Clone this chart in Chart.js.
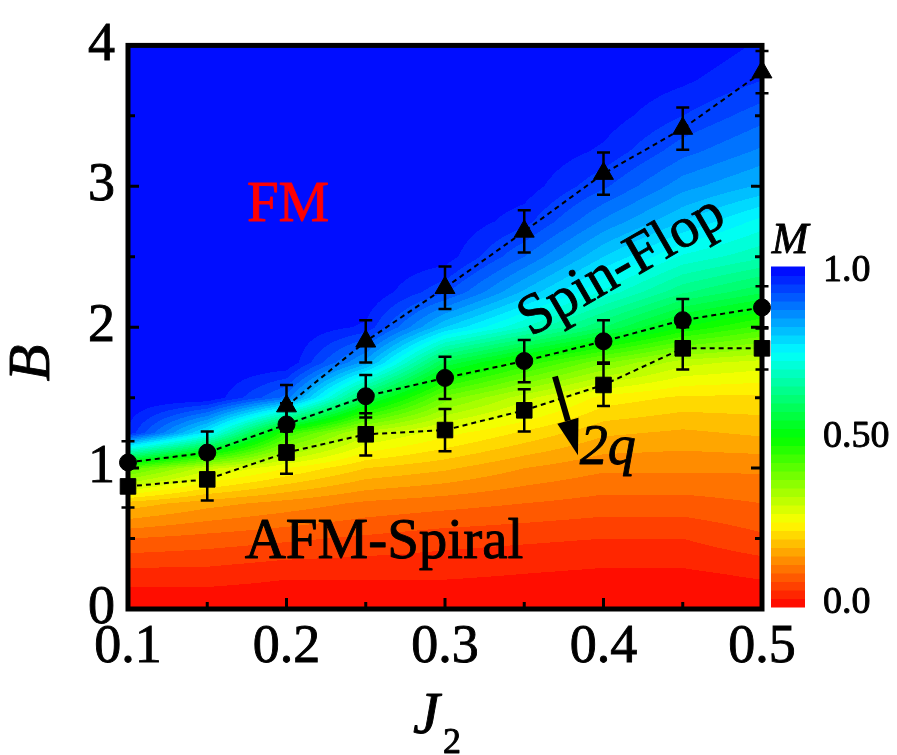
<!DOCTYPE html>
<html>
<head>
<meta charset="utf-8">
<script src="https://cdn.jsdelivr.net/npm/chart.js@4.4.1/dist/chart.umd.min.js"></script>
<style>
  html, body { margin: 0; padding: 0; background: #fff; }
  canvas { display: block; }
</style>
</head>
<body>
<canvas id="phaseChart" width="897" height="755"></canvas>
<script>
const phaseHTML = document.getElementById("phaseChart");

// Transition fields
const j2Values = [0.1, 0.15, 0.2, 0.25, 0.3, 0.35, 0.4, 0.45, 0.5];
const triangleJ2 = [0.2, 0.25, 0.3, 0.35, 0.4, 0.45, 0.5];
const triangleB = [1.44, 1.90, 2.28, 2.68, 3.09, 3.41, 3.81];
const triangleErr = [0.15, 0.15, 0.15, 0.15, 0.15, 0.15, 0.15];
const circleB = [1.04, 1.11, 1.31, 1.51, 1.64, 1.76, 1.90, 2.05, 2.14];
const circleErr = [0.15, 0.15, 0.15, 0.15, 0.15, 0.15, 0.15, 0.15, 0.15];
const squareB = [0.87, 0.92, 1.11, 1.24, 1.27, 1.41, 1.59, 1.85, 1.85];
const squareErr = [0.15, 0.15, 0.15, 0.15, 0.15, 0.15, 0.15, 0.15, 0.15];

// Magnetization M, one row per J2 value, columns along B
const mapB = [0, 0.25, 0.5, 0.75, 1, 1.25, 1.5, 1.75, 2, 2.25, 2.5, 2.75, 3, 3.25, 3.5, 3.75, 4];
const mapM = [
    [0, 0.04, 0.10, 0.19, 0.42, 0.97, 1, 1, 1, 1, 1, 1, 1, 1, 1, 1, 1],
    [0, 0.04, 0.09, 0.16, 0.31, 0.76, 1, 1, 1, 1, 1, 1, 1, 1, 1, 1, 1],
    [0, 0.03, 0.08, 0.14, 0.25, 0.45, 0.89, 1, 1, 1, 1, 1, 1, 1, 1, 1, 1],
    [0, 0.03, 0.07, 0.12, 0.20, 0.31, 0.58, 0.84, 0.97, 1, 1, 1, 1, 1, 1, 1, 1],
    [0, 0.03, 0.06, 0.11, 0.18, 0.26, 0.39, 0.57, 0.80, 0.93, 0.99, 1, 1, 1, 1, 1, 1],
    [0, 0.025, 0.055, 0.10, 0.15, 0.22, 0.31, 0.47, 0.70, 0.82, 0.90, 0.96, 0.99, 1, 1, 1, 1],
    [0, 0.02, 0.05, 0.09, 0.13, 0.18, 0.24, 0.38, 0.60, 0.72, 0.80, 0.87, 0.93, 0.97, 0.99, 1, 1],
    [0, 0.02, 0.05, 0.09, 0.13, 0.17, 0.22, 0.31, 0.50, 0.63, 0.72, 0.80, 0.86, 0.91, 0.95, 0.98, 1],
    [0, 0.03, 0.07, 0.10, 0.13, 0.18, 0.22, 0.29, 0.44, 0.58, 0.68, 0.74, 0.82, 0.87, 0.91, 0.95, 0.97]
];

const xTickValues = [0.1, 0.2, 0.3, 0.4, 0.5];
const yTickValues = [0, 1, 2, 3, 4];
const colorBarValues = [1.0, 0.5, 0.0];
const colorBarLabels = ["1.0", "0.50", "0.0"];

const serif = '"Liberation Serif", "Times New Roman", serif';

// Colour map for M: red -> yellow -> green -> cyan -> blue, in bands
const colorStops = [
    [0.0, 255, 0, 0],
    [0.25, 255, 255, 0],
    [0.5, 0, 255, 0],
    [0.75, 0, 255, 255],
    [1.0, 0, 0, 255]
];
const levels = 40;

function colorForM(m) {
    let k = Math.floor(m * levels);
    if (k < 0) k = 0;
    if (k > levels - 1) k = levels - 1;
    const v = (k + 0.5) / levels;
    for (let i = 1; i < colorStops.length; i++) {
        if (v <= colorStops[i][0]) {
            const a = colorStops[i - 1];
            const b = colorStops[i];
            const t = (v - a[0]) / (b[0] - a[0]);
            return [a[1] + (b[1] - a[1]) * t, a[2] + (b[2] - a[2]) * t, a[3] + (b[3] - a[3]) * t];
        }
    }
    return [0, 0, 255];
}

function findCell(arr, v) {
    if (v <= arr[0]) return [0, 0];
    for (let i = 0; i < arr.length - 1; i++) {
        if (v <= arr[i + 1]) return [i, (v - arr[i]) / (arr[i + 1] - arr[i])];
    }
    return [arr.length - 2, 1];
}

// Smooth value of M between the read grid points (contour fill)
function lookupM(j2, b) {
    const [i, tx] = findCell(j2Values, j2);
    const [k, ty] = findCell(mapB, b);
    const m00 = mapM[i][k], m01 = mapM[i][k + 1];
    const m10 = mapM[i + 1][k], m11 = mapM[i + 1][k + 1];
    return (m00 * (1 - ty) + m01 * ty) * (1 - tx) + (m10 * (1 - ty) + m11 * ty) * tx;
}

// Drawing the M map, the frame, the inward ticks and the error bars
const magnetizationMap = {
    id: 'magnetizationMap',
    beforeDatasetsDraw(chart) {
        const { ctx, chartArea, scales } = chart;
        const left = Math.round(chartArea.left);
        const top = Math.round(chartArea.top);
        const w = Math.round(chartArea.right) - left;
        const h = Math.round(chartArea.bottom) - top;
        const off = document.createElement('canvas');
        off.width = w;
        off.height = h;
        const octx = off.getContext('2d');
        const img = octx.createImageData(w, h);
        const xs = [];
        for (let px = 0; px < w; px++) xs.push(scales.x.getValueForPixel(left + px + 0.5));
        for (let py = 0; py < h; py++) {
            const b = scales.y.getValueForPixel(top + py + 0.5);
            for (let px = 0; px < w; px++) {
                const c = colorForM(lookupM(xs[px], b));
                const idx = (py * w + px) * 4;
                img.data[idx] = c[0];
                img.data[idx + 1] = c[1];
                img.data[idx + 2] = c[2];
                img.data[idx + 3] = 255;
            }
        }
        octx.putImageData(img, 0, 0);
        ctx.drawImage(off, left, top);

        // ticks
        ctx.save();
        ctx.strokeStyle = '#000';
        ctx.lineWidth = 3;
        ctx.beginPath();
        for (let v = 0.1; v <= 0.5001; v += 0.05) {
            const px = scales.x.getPixelForValue(v);
            const major = Math.abs(v * 10 - Math.round(v * 10)) < 0.01;
            const len = major ? 11 : 7;
            ctx.moveTo(px, chartArea.bottom);
            ctx.lineTo(px, chartArea.bottom - len);
        }
        for (let v = 0; v <= 4.001; v += 0.5) {
            const py = scales.y.getPixelForValue(v);
            const len = Number.isInteger(v) ? 11 : 7;
            ctx.moveTo(chartArea.left, py);
            ctx.lineTo(chartArea.left + len, py);
            ctx.moveTo(chartArea.right, py);
            ctx.lineTo(chartArea.right - len, py);
        }
        ctx.stroke();

        // frame
        ctx.lineWidth = 5;
        ctx.strokeRect(chartArea.left, chartArea.top, chartArea.right - chartArea.left, chartArea.bottom - chartArea.top);

        // error bars
        ctx.lineWidth = 2.5;
        const bars = [[triangleJ2, triangleB, triangleErr], [j2Values, circleB, circleErr], [j2Values, squareB, squareErr]];
        bars.forEach(([xv, yv, ev]) => {
            for (let i = 0; i < xv.length; i++) {
                const px = scales.x.getPixelForValue(xv[i]);
                const yTop = scales.y.getPixelForValue(yv[i] + ev[i]);
                const yBot = scales.y.getPixelForValue(yv[i] - ev[i]);
                ctx.beginPath();
                ctx.moveTo(px, yTop);
                ctx.lineTo(px, yBot);
                ctx.moveTo(px - 6.5, yTop);
                ctx.lineTo(px + 6.5, yTop);
                ctx.moveTo(px - 6.5, yBot);
                ctx.lineTo(px + 6.5, yBot);
                ctx.stroke();
            }
        });
        ctx.restore();
    }
}

// text with a thin outline so it reads as heavy as the original
function heavyText(ctx, text, x, y) {
    ctx.strokeStyle = ctx.fillStyle;
    ctx.lineWidth = 0.9;
    ctx.lineJoin = 'round';
    ctx.strokeText(text, x, y);
    ctx.fillText(text, x, y);
}

// Phase names, the arrow, axis titles and the colour bar
const phaseLabels = {
    id: 'phaseLabels',
    afterDraw(chart) {
        const { ctx, scales } = chart;
        const X = v => scales.x.getPixelForValue(v);
        const Y = v => scales.y.getPixelForValue(v);
        ctx.save();
        ctx.textBaseline = 'alphabetic';
        ctx.textAlign = 'center';

        ctx.font = `57px ${serif}`;
        ctx.fillStyle = 'red';
        heavyText(ctx, 'FM', X(0.201), Y(2.755));

        ctx.fillStyle = '#000';
        heavyText(ctx, 'AFM-Spiral', X(0.2615), Y(0.364));

        ctx.save();
        ctx.translate(X(0.4117), Y(2.427));
        ctx.rotate(-30 * Math.PI / 180);
        ctx.textBaseline = 'middle';
        heavyText(ctx, 'Spin-Flop', 0, 0);
        ctx.restore();

        ctx.textAlign = 'left';
        ctx.font = `italic 56px ${serif}`;
        heavyText(ctx, '2q', X(0.385), Y(1.028));

        // arrow
        const x0 = X(0.3694), y0 = Y(1.650), x1 = X(0.3839), y1 = Y(1.091);
        const ang = Math.atan2(y1 - y0, x1 - x0);
        const headLen = 36, headHalf = 11;
        const bx = x1 - headLen * Math.cos(ang), by = y1 - headLen * Math.sin(ang);
        ctx.strokeStyle = '#000';
        ctx.lineWidth = 6;
        ctx.beginPath();
        ctx.moveTo(x0, y0);
        ctx.lineTo(bx, by);
        ctx.stroke();
        ctx.beginPath();
        ctx.moveTo(x1, y1);
        ctx.lineTo(bx + headHalf * Math.sin(ang), by - headHalf * Math.cos(ang));
        ctx.lineTo(bx - headHalf * Math.sin(ang), by + headHalf * Math.cos(ang));
        ctx.closePath();
        ctx.fill();

        // axis titles
        ctx.font = `italic 60px ${serif}`;
        ctx.textAlign = 'center';
        ctx.textBaseline = 'middle';
        ctx.save();
        ctx.translate(33, 363);
        ctx.rotate(-Math.PI / 2);
        heavyText(ctx, 'B', 0, 0);
        ctx.restore();
        ctx.textBaseline = 'alphabetic';
        ctx.textAlign = 'left';
        heavyText(ctx, 'J', 413, 733);
        ctx.font = `36px ${serif}`;
        heavyText(ctx, '2', 443, 753);

        // colour bar
        const cbLeft = 771, cbRight = 805, cbTop = 267, cbBottom = 607;
        const bandH = (cbBottom - cbTop) / levels;
        for (let k = 0; k < levels; k++) {
            const c = colorForM((k + 0.5) / levels);
            ctx.fillStyle = `rgb(${c[0]},${c[1]},${c[2]})`;
            ctx.fillRect(cbLeft, cbBottom - (k + 1) * bandH - 0.5, cbRight - cbLeft, bandH + 1);
        }
        ctx.fillStyle = '#000';
        ctx.font = `38px ${serif}`;
        ctx.textBaseline = 'middle';
        colorBarValues.forEach((v, i) => {
            heavyText(ctx, colorBarLabels[i], 823, 603 - v * (603 - 271));
        });
        ctx.font = `italic 44px ${serif}`;
        ctx.textAlign = 'center';
        ctx.textBaseline = 'alphabetic';
        heavyText(ctx, 'M', 790, 253);
        ctx.restore();
    }
}

const pointsOf = (xs, ys) => xs.map((x, i) => ({ x: x, y: ys[i] }));
const lineStyle = {
    showLine: true,
    borderColor: '#000',
    backgroundColor: '#000',
    borderWidth: 2,
    borderDash: [5, 4],
    pointBackgroundColor: '#000',
    pointBorderColor: '#000',
    pointBorderWidth: 1,
    tension: 0,
    clip: false
};

const phaseData = {
    datasets: [
        Object.assign({ label: 'upper', data: pointsOf(triangleJ2, triangleB), pointStyle: 'triangle', pointRadius: 11.5 }, lineStyle),
        Object.assign({ label: 'middle', data: pointsOf(j2Values, circleB), pointStyle: 'circle', pointRadius: 8.5 }, lineStyle),
        Object.assign({ label: 'lower', data: pointsOf(j2Values, squareB), pointStyle: 'rect', pointRadius: 11 }, lineStyle)
    ]
};

const tickFont = { family: serif, size: 54 };

const phaseConfig = {
    type: 'scatter',
    data: phaseData,
    options: {
        responsive: false,
        animation: false,
        devicePixelRatio: 1,
        layout: { padding: { top: 37, right: 135, left: 0, bottom: 0 } },
        plugins: { legend: { display: false }, tooltip: { enabled: false } },
        scales: {
            x: {
                type: 'linear',
                min: 0.1,
                max: 0.5,
                grid: { display: false, drawTicks: false },
                border: { display: false },
                afterBuildTicks: s => { s.ticks = xTickValues.map(v => ({ value: v })); },
                afterFit: s => { s.height = 146; },
                ticks: {
                    color: '#000',
                    textStrokeColor: '#000',
                    textStrokeWidth: 0.9,
                    padding: 6,
                    maxRotation: 0,
                    autoSkip: false,
                    font: tickFont,
                    callback: v => v.toFixed(1)
                }
            },
            y: {
                type: 'linear',
                min: 0,
                max: 4,
                grid: { display: false, drawTicks: false },
                border: { display: false },
                afterBuildTicks: s => { s.ticks = yTickValues.map(v => ({ value: v })); },
                afterFit: s => { s.width = 128; },
                ticks: {
                    color: '#000',
                    textStrokeColor: '#000',
                    textStrokeWidth: 0.9,
                    padding: 13,
                    autoSkip: false,
                    font: tickFont,
                    callback: v => String(v)
                }
            }
        }
    },
    plugins: [magnetizationMap, phaseLabels]
};

// fonts are loaded before the first draw
let phaseChart;
Promise.all([
    document.fonts.load('54px "Liberation Serif"'),
    document.fonts.load('italic 54px "Liberation Serif"')
]).catch(() => {}).then(() => {
    phaseChart = new Chart(phaseHTML, phaseConfig);
});
</script>
</body>
</html>
